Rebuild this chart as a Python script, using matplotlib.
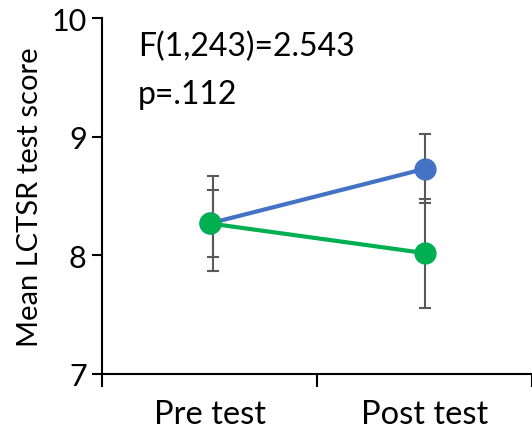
import matplotlib.pyplot as plt

# Data
groups = ['Pre test', 'Post test']
blue_mean = [8.27, 8.73]
blue_err = [0.28, 0.29]
green_mean = [8.27, 8.02]
green_err = [0.40, 0.46]
stat_lines = ['F(1,243)=2.543', 'p=.112']

plt.rcParams['font.family'] = ['Lato', 'DejaVu Sans']

fig = plt.figure(figsize=(5.32, 4.31), dpi=100)
ax = fig.add_axes([102 / 532, 1 - 375 / 431, 430 / 532, (375 - 19.3) / 431])

x = [1, 2]
err_kw = dict(fmt='none', ecolor='#595959', elinewidth=1.5, capsize=4.3, capthick=1.5, zorder=2)
ax.errorbar([1.015, 2], blue_mean, yerr=blue_err, **err_kw)
ax.errorbar([1.015, 2], green_mean, yerr=green_err, **err_kw)
ax.plot(x, blue_mean, color='#4472C4', lw=3, marker='o', ms=15, zorder=3)
ax.plot(x, green_mean, color='#00B050', lw=3, marker='o', ms=15, zorder=4)

ax.set_ylim(7, 10)
ax.set_xlim(0.5, 0.5 + 430 / 218)
ax.set_yticks([7, 8, 9, 10])
ax.set_xticks([0.5, 1.5, 2.5])
ax.set_xticklabels([])
ax.set_xticks(x, minor=True)
ax.set_xticklabels(groups, minor=True)
ax.tick_params(axis='x', which='minor', length=0, pad=18, labelsize=23.5)
ax.tick_params(axis='x', which='major', length=9, width=1.5)
ax.tick_params(axis='y', length=7, width=1.5, labelsize=22, pad=4)

for side in ['top', 'right']:
    ax.spines[side].set_visible(False)
for side in ['left', 'bottom']:
    ax.spines[side].set_linewidth(1.5)

ax.set_ylabel('Mean LCTSR test score', fontsize=21, labelpad=6)

ax.text(0.083, 0.895, stat_lines[0], transform=ax.transAxes, fontsize=23, va='baseline')
ax.text(0.083, 0.762, stat_lines[1], transform=ax.transAxes, fontsize=23, va='baseline')

fig.savefig('out.png', dpi=100)
